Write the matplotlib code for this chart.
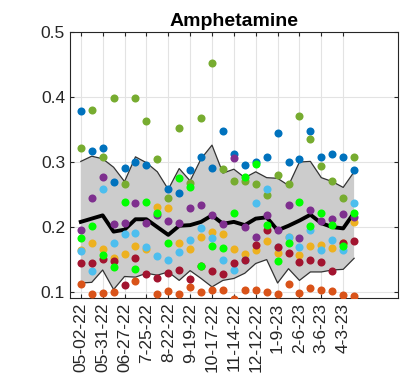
import numpy as np
import matplotlib
matplotlib.use('Agg')
import matplotlib.pyplot as plt

plt.rcParams['font.family'] = ['Liberation Sans', 'DejaVu Sans']

nan = np.nan

# Amostras (26 semanas, 2 em 2)
tick_labels = ['05-02-22', '05-31-22', '06-27-22', '7-25-22', '8-22-22', '9-19-22',
               '10-17-22', '11-14-22', '12-12-22', '1-9-23', '2-6-23', '3-6-23', '4-3-23']

blue = [0.379, 0.317, 0.322, 0.269, 0.291, 0.300, 0.295, nan, 0.258, 0.252, 0.287, 0.308, 0.291,
        0.348, 0.313, 0.295, 0.300, 0.308, 0.344, 0.300, 0.304, 0.348, 0.308, 0.313, 0.308, 0.287]
orange = [0.112, 0.097, 0.098, 0.100, nan, 0.117, nan, 0.097, 0.102, 0.097, 0.108, 0.100, 0.104,
          0.104, 0.090, 0.104, 0.104, 0.100, 0.097, 0.112, 0.098, 0.106, 0.103, 0.102, 0.095, 0.094]
yellow = [0.165, 0.176, 0.167, 0.153, 0.158, 0.171, 0.166, 0.231, 0.230, 0.175, 0.166, 0.185, 0.193,
          0.190, 0.167, 0.158, 0.165, 0.178, 0.160, 0.185, 0.157, 0.171, 0.172, 0.168, 0.175, 0.208]
purple = [0.196, 0.244, 0.277, 0.205, 0.207, 0.237, 0.206, 0.218, 0.210, 0.207, 0.230, 0.234, 0.218,
          0.204, 0.306, 0.200, 0.184, 0.218, 0.195, 0.234, 0.183, 0.227, 0.209, 0.213, 0.220, 0.215]
green = [0.321, 0.380, 0.308, 0.399, 0.266, 0.399, 0.363, 0.304, 0.244, 0.353, 0.268, 0.367, 0.453,
         0.289, 0.271, 0.271, 0.266, 0.249, 0.280, 0.266, 0.371, 0.335, 0.294, 0.271, 0.244, 0.308]
lightblue = [0.163, 0.133, 0.258, 0.175, 0.190, 0.191, 0.170, 0.155, 0.149, 0.162, 0.180, 0.198, 0.183,
             0.150, 0.134, 0.150, 0.237, 0.258, 0.170, 0.185, 0.170, 0.195, 0.165, 0.180, 0.165, 0.237]
darkred = [0.144, 0.144, 0.151, 0.148, 0.111, 0.152, 0.128, 0.121, 0.129, 0.134, 0.120, 0.140, 0.132,
           0.128, 0.144, 0.149, 0.172, 0.195, 0.170, 0.160, 0.146, 0.150, 0.147, 0.133, 0.176, 0.178]
brightgreen = [0.183, 0.202, 0.157, 0.138, 0.239, 0.135, 0.239, 0.221, 0.175, 0.276, 0.261, 0.140, 0.171,
               0.168, 0.221, 0.277, 0.297, 0.203, 0.148, 0.176, 0.239, 0.202, 0.221, 0.203, 0.171, 0.221]

# banda e media
band_hi = [0.301, 0.309, 0.305, 0.292, 0.270, 0.308, 0.299, 0.285, 0.258, 0.290, 0.271, 0.305, 0.326,
           0.283, 0.289, 0.276, 0.285, 0.276, 0.275, 0.264, 0.300, 0.301, 0.276, 0.270, 0.261, 0.285]
band_lo = [0.114, 0.115, 0.134, 0.104, 0.124, 0.123, 0.129, 0.126, 0.131, 0.118, 0.133, 0.121, 0.108,
           0.118, 0.121, 0.129, 0.144, 0.150, 0.114, 0.136, 0.118, 0.131, 0.131, 0.134, 0.135, 0.152]
mean = [0.208, 0.213, 0.218, 0.193, 0.196, 0.212, 0.212, 0.200, 0.188, 0.202, 0.203, 0.208, 0.218,
        0.205, 0.208, 0.203, 0.213, 0.215, 0.195, 0.202, 0.210, 0.219, 0.206, 0.200, 0.198, 0.222]

t = np.arange(len(mean))

fig = plt.figure(figsize=(4.11, 3.90), dpi=100)
ax = fig.add_axes([0.170, 0.236, 0.798, 0.682])

ax.fill_between(t, band_lo, band_hi, facecolor='#cccccc', edgecolor='none', zorder=1)
ax.plot(t, band_hi, color='#333333', lw=0.9, zorder=2)
ax.plot(t, band_lo, color='#333333', lw=0.9, zorder=2)
ax.plot(t, mean, color='black', lw=2.8, zorder=3)

series = [(blue, '#0072BD'), (orange, '#D95319'), (yellow, '#EDB120'), (purple, '#7E2F8E'),
          (green, '#77AC30'), (lightblue, '#4DBEEE'), (darkred, '#A2142F'), (brightgreen, '#00FF00')]
for vals, c in series:
    ax.plot(t, vals, 'o', color=c, ms=5.8, mew=0, zorder=4)

ax.set_xlim(-1, 29)
ax.set_ylim(0.091, 0.5)
ax.set_yticks([0.1, 0.2, 0.3, 0.4, 0.5])
ax.set_xticks(t[::2])
ax.set_xticklabels(tick_labels, rotation=90)
ax.grid(True, color='#e3e3e3', lw=0.8)
ax.set_axisbelow(True)
ax.tick_params(direction='in', length=3, labelsize=12.5, colors='#262626', top=True, right=True)
for s in ax.spines.values():
    s.set_color('#262626')
    s.set_linewidth(0.8)
ax.set_title('Amphetamine', fontsize=14, fontweight='bold', pad=4)

fig.savefig('out.png', dpi=100)
